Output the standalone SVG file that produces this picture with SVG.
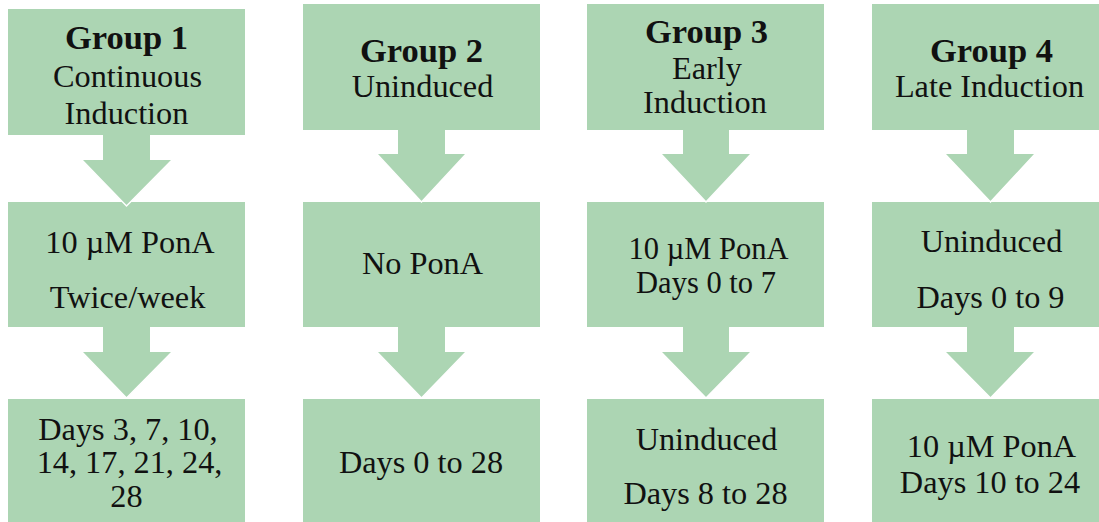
<svg xmlns="http://www.w3.org/2000/svg" width="1099" height="522" viewBox="0 0 1099 522">
<style>
.box{fill:#acd5b3}
.arr{fill:#acd5b3}
.tipline{fill:none;stroke:#ffffff;stroke-width:1.5}
.t{font-size:32.3px;fill:#111;text-anchor:middle}
.b{font-weight:bold;font-size:34.5px}
.s{font-size:30.5px}
</style>
<rect width="1099" height="522" fill="#ffffff"/>

<g id="g1-top" font-family="Liberation Serif"><rect class="box" x="8" y="9" width="237" height="126"/>
<text class="t b" x="126.5" y="49">Group 1</text>
<text class="t" x="127.5" y="87">Continuous</text>
<text class="t" x="126.5" y="124">Induction</text></g>
<g id="g1-mid" font-family="Liberation Serif"><rect class="box" x="8" y="202" width="237" height="125"/>
<text class="t" x="130" y="253">10 µM PonA</text>
<text class="t" x="127.5" y="308">Twice/week</text></g>
<g id="g1-bot" font-family="Liberation Serif"><rect class="box" x="8" y="399" width="237" height="130"/>
<text class="t" x="128" y="440">Days 3, 7, 10,</text>
<text class="t" x="129.5" y="473">14, 17, 21, 24,</text>
<text class="t" x="126.5" y="507">28</text></g>

<g id="g2-top" font-family="Liberation Serif"><rect class="box" x="303" y="4" width="237" height="126"/>
<text class="t b" x="421.5" y="62">Group 2</text>
<text class="t" x="422.5" y="97">Uninduced</text></g>
<g id="g2-mid" font-family="Liberation Serif"><rect class="box" x="303" y="202" width="237" height="125"/>
<text class="t" x="422.5" y="274">No PonA</text></g>
<g id="g2-bot" font-family="Liberation Serif"><rect class="box" x="303" y="399" width="237" height="130"/>
<text class="t" x="421" y="473">Days 0 to 28</text></g>

<g id="g3-top" font-family="Liberation Serif"><rect class="box" x="587" y="4" width="237" height="126"/>
<text class="t b" x="706.5" y="43">Group 3</text>
<text class="t" x="707" y="79">Early</text>
<text class="t" x="705" y="113">Induction</text></g>
<g id="g3-mid" font-family="Liberation Serif"><rect class="box" x="587" y="202" width="237" height="125"/>
<text class="t s" x="708.5" y="259">10 µM PonA</text>
<text class="t s" x="706" y="293">Days 0 to 7</text></g>
<g id="g3-bot" font-family="Liberation Serif"><rect class="box" x="587" y="399" width="237" height="130"/>
<text class="t" x="706.5" y="450">Uninduced</text>
<text class="t" x="705.5" y="504">Days 8 to 28</text></g>

<g id="g4-top" font-family="Liberation Serif"><rect class="box" x="872" y="4" width="237" height="126"/>
<text class="t b" x="991.5" y="62">Group 4</text>
<text class="t" x="989.5" y="97">Late Induction</text></g>
<g id="g4-mid" font-family="Liberation Serif"><rect class="box" x="872" y="202" width="237" height="125"/>
<text class="t" x="991.5" y="252">Uninduced</text>
<text class="t" x="990.5" y="308">Days 0 to 9</text></g>
<g id="g4-bot" font-family="Liberation Serif"><rect class="box" x="872" y="399" width="237" height="130"/>
<text class="t" x="991.5" y="457">10 µM PonA</text>
<text class="t" x="990" y="493">Days 10 to 24</text></g>

<g id="connectors">
<polygon class="arr" points="103,135 150,135 150,160 172,160 126.5,206 82,160 103,160"/>
<polyline class="tipline" points="82,160 126.5,206 172,160"/>
<polygon class="arr" points="103,327 150,327 150,352 172,352 126.5,398 82,352 103,352"/>
<polyline class="tipline" points="82,352 126.5,398 172,352"/>

<polygon class="arr" points="398,130 445,130 445,154 466,154 421.5,202 377,154 398,154"/>
<polyline class="tipline" points="377,154 421.5,202 466,154"/>
<polygon class="arr" points="398,327 445,327 445,352 466,352 421.5,398 377,352 398,352"/>
<polyline class="tipline" points="377,352 421.5,398 466,352"/>

<polygon class="arr" points="683,130 729,130 729,154 751,154 706,202 661,154 683,154"/>
<polyline class="tipline" points="661,154 706,202 751,154"/>
<polygon class="arr" points="683,327 729,327 729,352 751,352 706,398 661,352 683,352"/>
<polyline class="tipline" points="661,352 706,398 751,352"/>

<polygon class="arr" points="967,130 1014,130 1014,154 1035,154 990.5,202 945,154 967,154"/>
<polyline class="tipline" points="945,154 990.5,202 1035,154"/>
<polygon class="arr" points="967,327 1014,327 1014,352 1035,352 990.5,398 945,352 967,352"/>
<polyline class="tipline" points="945,352 990.5,398 1035,352"/>
</g>
</svg>
